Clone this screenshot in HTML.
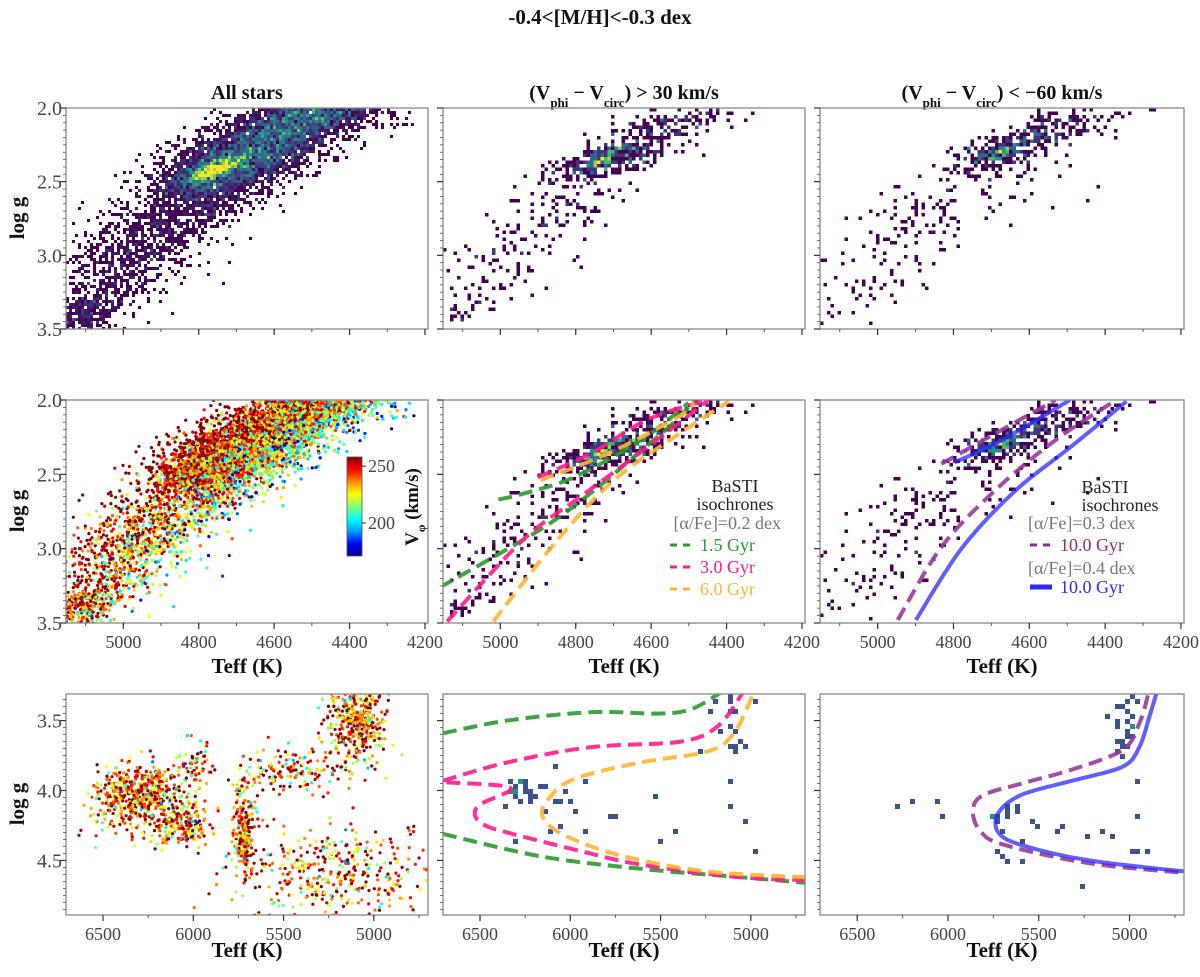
<!DOCTYPE html>
<html><head><meta charset="utf-8">
<style>
html,body{margin:0;padding:0;background:#fff;}
svg{display:block;font-family:"Liberation Serif",serif;}
.tk{font-size:18px;fill:#444;}
.lab{font-size:21px;font-weight:bold;fill:#111;}
.ttl{font-size:20px;font-weight:bold;fill:#111;}
.leg{font-size:18px;}
</style></head>
<body>
<svg id="fig" width="1200" height="977" viewBox="0 0 1200 977" xmlns="http://www.w3.org/2000/svg">
<text x="600" y="24" text-anchor="middle" class="ttl" style="font-size:21px">-0.4&lt;[M/H]&lt;-0.3 dex</text>
<text x="247" y="99" text-anchor="middle" class="ttl">All stars</text>
<text x="624" y="99" text-anchor="middle" class="ttl">(V<tspan baseline-shift="sub" font-size="13">phi</tspan> − V<tspan baseline-shift="sub" font-size="13">circ</tspan>) &gt; 30 km/s</text>
<text x="1002" y="99" text-anchor="middle" class="ttl">(V<tspan baseline-shift="sub" font-size="13">phi</tspan> − V<tspan baseline-shift="sub" font-size="13">circ</tspan>) &lt; −60 km/s</text>
<g id="plots"></g>
</svg>
<script>
// ---------- data ----------
const ridgeG = [1.9, 2.0, 2.5, 3.0, 3.5, 3.6];
const ridgeT = [4400, 4480, 4780, 4980, 5120, 5160];
// [logg centre, logg sd, teff offset, teff sd, count]
const allStarsRGB = [[2.05,0.1,0,90,2200],[2.3,0.1,0,90,2000],[2.5,0.1,-20,85,1300],[2.42,0.05,30,30,800],[2.8,0.15,0,90,600],[3.1,0.15,0,85,450],[3.4,0.1,20,55,400]];
const progRGB = [[2.1,0.1,0,75,170],[2.35,0.08,20,60,300],[2.33,0.04,40,25,80],[2.7,0.15,0,85,90],[3.1,0.2,0,85,70],[3.4,0.1,40,55,40]];
const retroRGB = [[2.1,0.1,-40,80,140],[2.3,0.08,10,55,230],[2.3,0.04,20,25,60],[2.7,0.2,-20,110,110],[3.1,0.2,0,110,50],[3.4,0.1,20,70,20]];
// [teff, logg, sdTeff, sdLogg, count]
const allStarsMS = [[6300,4.05,130,0.12,550],[6050,4.25,80,0.08,180],[6000,3.78,50,0.08,60],[5720,4.3,30,0.16,220],[5450,3.85,200,0.08,170],[5100,3.5,80,0.12,380],[5200,4.6,280,0.17,380]];
const progMS = [[6250,4.0,60,0.07,18],[6000,4.15,200,0.15,14],[5100,3.55,60,0.12,16],[5400,4.3,300,0.25,10]];
const retroMS = [[5000,3.5,50,0.12,22],[5700,4.15,40,0.06,10],[5400,4.3,300,0.15,18],[6300,4.05,150,0.15,4]];
const iso15T = [5160,4893,4752,4645,4539,4485];
const iso15G = [3.26,2.87,2.61,2.38,2.15,2.0];
const iso15uT = [5005,4939,4805,4627,4501];
const iso15uG = [2.67,2.63,2.52,2.27,2.02];
const iso30T = [5141,4939,4787,4680,4539,4448];
const iso30G = [3.49,2.94,2.65,2.45,2.18,2.0];
const iso30uT = [4901,4760,4608,4448];
const iso30uG = [2.52,2.36,2.13,2.0];
const iso60T = [5019,4848,4699,4539,4395];
const iso60G = [3.49,2.94,2.54,2.25,2.01];
const iso60uT = [4893,4715,4539,4485];
const iso60uG = [2.54,2.36,2.13,2.02];
const isoBlueT = [4899,4779,4637,4493,4344];
const isoBlueG = [3.48,3.0,2.61,2.32,2.01];
const isoBlueuT = [4797,4672,4493];
const isoBlueuG = [2.42,2.27,2.0];
const isoPurT = [4947,4832,4691,4531,4371];
const isoPurG = [3.48,2.99,2.61,2.27,2.0];
const isoPuruT = [4832,4672,4531];
const isoPuruG = [2.43,2.20,2.0];
const d15aT = [6705,6350,5888,5516,5333,5166];
const d15aG = [3.59,3.50,3.44,3.45,3.42,3.30];
const d15bT = [6705,6166,5611,5055,4694];
const d15bG = [4.31,4.47,4.56,4.62,4.66];
const d30T = [4694,5055,5611,5983,6350,6470,6527,6500,6333,6705];
const d30G = [4.64,4.62,4.53,4.42,4.30,4.25,4.18,4.10,3.98,3.94];
const d30uT = [6705,6350,5888,5388,5183,5044];
const d30uG = [3.93,3.80,3.69,3.65,3.54,3.30];
const d60T = [4694,5238,5705,6016,6149,6127,5983,5611,5238,5094,4983];
const d60G = [4.62,4.58,4.47,4.33,4.20,4.07,3.92,3.80,3.72,3.59,3.30];
const dBlueT = [4853,4890,4946,5038,5316,5594,5723,5723,5594,5223,4686];
const dBlueG = [3.31,3.47,3.69,3.83,3.93,4.03,4.16,4.30,4.39,4.50,4.58];
const dPurT = [4899,4946,5038,5316,5594,5816,5862,5816,5686,5223,4686];
const dPurG = [3.32,3.52,3.71,3.85,3.95,4.04,4.16,4.30,4.39,4.52,4.59];
const xTicksG = [5000,4800,4600,4400,4200];
const xTicksD = [6500,6000,5500,5000];
const yTicksG = [2.0,2.5,3.0,3.5];
const yTicksD = [3.5,4.0,4.5];
const cbTicks = [200,250];

// ---------- helpers ----------
const NS="http://www.w3.org/2000/svg";
const root=document.getElementById('plots');
function mk(tag,attrs,parent){const e=document.createElementNS(NS,tag);for(const k in attrs)e.setAttribute(k,attrs[k]);(parent||root).appendChild(e);return e;}
let seed=12345;
function rnd(){seed|=0;seed=seed+0x6D2B79F5|0;let t=Math.imul(seed^seed>>>15,1|seed);t=t+Math.imul(t^t>>>7,61|t)^t;return((t^t>>>14)>>>0)/4294967296;}
function gauss(){let u=rnd()||1e-9,v=rnd();return Math.sqrt(-2*Math.log(u))*Math.cos(2*Math.PI*v);}
function interp(xs,ys,x){if(x<=xs[0])return ys[0]+(x-xs[0])*(ys[1]-ys[0])/(xs[1]-xs[0]);for(let i=1;i<xs.length;i++){if(x<=xs[i])return ys[i-1]+(x-xs[i-1])*(ys[i]-ys[i-1])/(xs[i]-xs[i-1]);}const n=xs.length;return ys[n-1]+(x-xs[n-1])*(ys[n-1]-ys[n-2])/(xs[n-1]-xs[n-2]);}
function lerpC(stops,f){f=Math.max(0,Math.min(1,f));const n=stops.length-1;const i=Math.min(n-1,Math.floor(f*n));const t=f*n-i;const a=stops[i],b=stops[i+1];return 'rgb('+[0,1,2].map(k=>Math.round(a[k]+(b[k]-a[k])*t)).join(',')+')';}
const viridis=[[68,1,84],[59,82,139],[33,145,140],[94,201,98],[253,231,37]];
const jetS=[[0,0,140],[0,0,255],[0,160,255],[0,255,255],[130,255,120],[255,255,0],[255,140,0],[255,0,0],[130,0,0]];
const vMin=171,vMax=258;

function rgbSample(clusters){const pts=[];for(const c of clusters){for(let i=0;i<c[4];i++){const g=c[0]+gauss()*c[1];const off=gauss()*c[3];const t=interp(ridgeG,ridgeT,g)+c[2]+off;pts.push([t,g,off]);}}return pts;}
function msSample(clusters){const pts=[];for(const c of clusters){for(let i=0;i<c[4];i++){pts.push([c[0]+gauss()*c[2],c[1]+gauss()*c[3],gauss()]);}}return pts;}

function panel(name,x0,y0,w,h,tL,tR,gT,gB){
  const p={x0,y0,w,h,tL,tR,gT,gB,name};
  p.sx=t=>x0+(tL-t)/(tL-tR)*w; p.sy=g=>y0+(g-gT)/(gB-gT)*h;
  p.g=mk('g',{});  
  const cid='clip-'+name; const cp=mk('clipPath',{id:cid},p.g); mk('rect',{x:x0,y:y0,width:w,height:h},cp);
  p.body=mk('g',{'clip-path':'url(#'+cid+')'},p.g);
  return p;
}
function frame(p,xt,xMinor,yt,yMinor,xLabels,yLabels){
  const ax=mk('g',{},p.g);  
  mk('rect',{x:p.x0,y:p.y0,width:p.w,height:p.h,fill:'none',stroke:'#888','stroke-width':1.3},ax);
  const b=p.y0+p.h;
  for(let t=Math.ceil(Math.min(p.tL,p.tR)/xMinor)*xMinor;t<=Math.max(p.tL,p.tR);t+=xMinor){const x=p.sx(t);mk('line',{x1:x,x2:x,y1:b,y2:b+3,stroke:'#555','stroke-width':1},ax);}
  for(const t of xt){const x=p.sx(t);if(x<p.x0-1||x>p.x0+p.w+1)continue;mk('line',{x1:x,x2:x,y1:b,y2:b+6,stroke:'#333','stroke-width':1.2},ax);
    if(xLabels){const tx=mk('text',{x:x,y:b+25,'text-anchor':'middle',class:'tk'},ax);tx.textContent=t;}}
  for(let g=Math.ceil(p.gT/yMinor)*yMinor;g<=p.gB+1e-9;g+=yMinor){const y=p.sy(g);mk('line',{x1:p.x0-3,x2:p.x0,y1:y,y2:y,stroke:'#555','stroke-width':0.8},ax);}
  for(const g of yt){const y=p.sy(g);mk('line',{x1:p.x0-6,x2:p.x0,y1:y,y2:y,stroke:'#333','stroke-width':1.2},ax);
    if(yLabels){const tx=mk('text',{x:p.x0-4,y:y+7,'text-anchor':'end',class:'tk',style:'font-size:20px'},ax);tx.textContent=g.toFixed(1);}}
}
function hist(p,pts,bin,maxC,mode){
  const m={};for(const q of pts){const x=p.sx(q[0]),y=p.sy(q[1]);const k=Math.floor((x-p.x0)/bin)+','+Math.floor((y-p.y0)/bin);m[k]=(m[k]||0)+1;}
  const g=mk('g',{},p.body);  
  for(const k in m){const [i,j]=k.split(',').map(Number);let col;
    if(mode==='dwarf')col=m[k]>1?'#21918c':'#3b528b';else col=lerpC(viridis,Math.min(1,(m[k]-1)/maxC));
    mk('rect',{x:p.x0+i*bin,y:p.y0+j*bin,width:bin,height:bin,fill:col},g);}
}
function jet(p,pts,vel){
  const g=mk('g',{},p.body);  
  pts.forEach((q,i)=>{mk('circle',{cx:p.sx(q[0]).toFixed(1),cy:p.sy(q[1]).toFixed(1),r:1.6,fill:lerpC(jetS,(vel[i]-vMin)/(vMax-vMin))},g);});
}
function curve(p,T,G,col,dash,name,w){
  const P=T.map((t,i)=>[p.sx(t),p.sy(G[i])]);
  let d='M'+P[0][0].toFixed(1)+','+P[0][1].toFixed(1);
  for(let i=0;i<P.length-1;i++){const p0=P[Math.max(0,i-1)],p1=P[i],p2=P[i+1],p3=P[Math.min(P.length-1,i+2)];
    const c1=[p1[0]+(p2[0]-p0[0])/6,p1[1]+(p2[1]-p0[1])/6],c2=[p2[0]-(p3[0]-p1[0])/6,p2[1]-(p3[1]-p1[1])/6];
    d+=' C'+c1.map(v=>v.toFixed(1)).join(',')+' '+c2.map(v=>v.toFixed(1)).join(',')+' '+p2.map(v=>v.toFixed(1)).join(',');}
  const e=mk('path',{d:d,fill:'none',stroke:col,'stroke-width':w||4,'stroke-dasharray':dash?'14 7':'none','stroke-linejoin':'round','stroke-opacity':dash?0.9:0.75},p.body);
   
}
function label(x,y,txt,rot,name,cls){const t=mk('text',{x:x,y:y,'text-anchor':'middle',class:cls||'lab'});if(rot)t.setAttribute('transform','rotate(-90 '+x+' '+y+')');t.textContent=txt;return t;}

// ---------- samples ----------
const sAll=rgbSample(allStarsRGB), sProg=rgbSample(progRGB), sRetro=rgbSample(retroRGB);
const vAll=sAll.map(q=>Math.max(vMin,Math.min(vMax,236+gauss()*22+q[2]*0.13+(q[1]-2.5)*6)));
const mAll=msSample(allStarsMS), mProg=msSample(progMS), mRetro=msSample(retroMS);
const vMS=mAll.map(q=>Math.max(vMin,Math.min(vMax,240+gauss()*20)));

const cols=[66,443,820], ws=[362,362,364];
const rows=[[108,221],[400,223],[694,221]];

const p11=panel('panel-all-stars-giants-density',cols[0],rows[0][0],ws[0],rows[0][1],5152,4192,2.0,3.5);
hist(p11,sAll,3,14,'v');frame(p11,xTicksG,100,yTicksG,0.05,false,true);
const p12=panel('panel-prograde-giants-density',cols[1],rows[0][0],ws[1],rows[0][1],5152,4192,2.0,3.5);
hist(p12,sProg,3.5,6,'v');frame(p12,xTicksG,100,yTicksG,0.05,false,false);
const p13=panel('panel-retrograde-giants-density',cols[2],rows[0][0],ws[2],rows[0][1],5152,4192,2.0,3.5);
hist(p13,sRetro,3.5,6,'v');frame(p13,xTicksG,100,yTicksG,0.05,false,false);

const p21=panel('panel-all-stars-giants-velocity',cols[0],rows[1][0],ws[0],rows[1][1],5152,4192,2.0,3.5);
jet(p21,sAll,vAll);frame(p21,xTicksG,100,yTicksG,0.05,true,true);
const p22=panel('panel-prograde-giants-isochrones',cols[1],rows[1][0],ws[1],rows[1][1],5152,4192,2.0,3.5);
hist(p22,sProg,3.5,6,'v');
curve(p22,iso15T,iso15G,'#2a9a2a',true,'isochrone-1.5gyr');curve(p22,iso15uT,iso15uG,'#2a9a2a',true,'isochrone-1.5gyr-clump');
curve(p22,iso30T,iso30G,'#ff1a8c',true,'isochrone-3.0gyr');curve(p22,iso30uT,iso30uG,'#ff1a8c',true,'isochrone-3.0gyr-clump');
curve(p22,iso60T,iso60G,'#ffb52e',true,'isochrone-6.0gyr');curve(p22,iso60uT,iso60uG,'#ffb52e',true,'isochrone-6.0gyr-clump');
frame(p22,xTicksG,100,yTicksG,0.05,true,false);
const p23=panel('panel-retrograde-giants-isochrones',cols[2],rows[1][0],ws[2],rows[1][1],5152,4192,2.0,3.5);
hist(p23,sRetro,3.5,6,'v');
curve(p23,isoPurT,isoPurG,'#9a3a9a',true,'isochrone-10gyr-alpha03');curve(p23,isoPuruT,isoPuruG,'#9a3a9a',true,'isochrone-10gyr-alpha03-clump');
curve(p23,isoBlueT,isoBlueG,'#2a2aff',false,'isochrone-10gyr-alpha04');curve(p23,isoBlueuT,isoBlueuG,'#2a2aff',false,'isochrone-10gyr-alpha04-clump');
frame(p23,xTicksG,100,yTicksG,0.05,true,false);

const p31=panel('panel-all-stars-dwarfs-velocity',cols[0],rows[2][0],ws[0],rows[2][1],6705,4700,3.31,4.89);
jet(p31,mAll,vMS);frame(p31,xTicksD,250,yTicksD,0.05,true,true);
const p32=panel('panel-prograde-dwarfs-isochrones',cols[1],rows[2][0],ws[1],rows[2][1],6705,4700,3.31,4.89);
hist(p32,mProg,5,1,'dwarf');
curve(p32,d15aT,d15aG,'#2a9a2a',true,'isochrone-1.5gyr-subgiant');curve(p32,d15bT,d15bG,'#2a9a2a',true,'isochrone-1.5gyr-ms');
curve(p32,d30T,d30G,'#ff1a8c',true,'isochrone-3.0gyr-ms');curve(p32,d30uT,d30uG,'#ff1a8c',true,'isochrone-3.0gyr-subgiant');
curve(p32,d60T,d60G,'#ffb52e',true,'isochrone-6.0gyr-ms');
frame(p32,xTicksD,250,yTicksD,0.05,true,false);
const p33=panel('panel-retrograde-dwarfs-isochrones',cols[2],rows[2][0],ws[2],rows[2][1],6705,4700,3.31,4.89);
hist(p33,mRetro,5,1,'dwarf');
curve(p33,dPurT,dPurG,'#9a3a9a',true,'isochrone-10gyr-alpha03-ms');curve(p33,dBlueT,dBlueG,'#2a2aff',false,'isochrone-10gyr-alpha04-ms');
frame(p33,xTicksD,250,yTicksD,0.05,true,false);

[218,511,804].forEach((y,i)=>label(24,y,'log g',true,'y-axis-title-row'+(i+1)));
[0,1,2].forEach(c=>{label(cols[c]+ws[c]/2,673,'Teff (K)',false,'x-axis-title-row2');label(cols[c]+ws[c]/2,957,'Teff (K)',false,'x-axis-title-row3');});

const cb=mk('g',{});
const gr=mk('linearGradient',{id:'jetg',x1:0,y1:1,x2:0,y2:0},cb);
jetS.forEach((s,i)=>mk('stop',{offset:i/(jetS.length-1),'stop-color':'rgb('+s.join(',')+')'},gr));
const cbY=v=>556-(v-vMin)/(vMax-vMin)*99;
mk('rect',{x:347,y:457,width:15,height:99,fill:'url(#jetg)',stroke:'#555','stroke-width':0.8},cb);
cbTicks.forEach(v=>{mk('line',{x1:362,x2:366,y1:cbY(v),y2:cbY(v),stroke:'#333'},cb);const t=mk('text',{x:368,y:cbY(v)+6,class:'tk'},cb);t.textContent=v;});
const cbl=mk('text',{x:418,y:507,'text-anchor':'middle',class:'lab',transform:'rotate(-90 418 507)',style:'font-size:19px'},cb);
cbl.innerHTML='V<tspan baseline-shift="sub" font-size="12">φ</tspan> (km/s)';

function legend(items,name){const g=mk('g',{});
  for(const it of items){if(it.line){mk('line',{x1:it.lx1,x2:it.lx2,y1:it.y-6,y2:it.y-6,stroke:it.col,'stroke-width':it.dash?3:5,'stroke-dasharray':it.dash?'7 6':'none'},g);}
    const t=mk('text',{x:it.x,y:it.y,'text-anchor':it.a||'start',class:'leg',fill:it.col},g);t.textContent=it.t;}}
legend([{t:'BaSTI',x:735,y:492,a:'middle',col:'#222'},{t:'isochrones',x:735,y:510,a:'middle',col:'#222'},
 {t:'[α/Fe]=0.2 dex',x:781,y:529,a:'end',col:'#777'},
 {t:'1.5 Gyr',x:700,y:551,col:'#2a9a2a',line:1,lx1:670,lx2:692,dash:1},
 {t:'3.0 Gyr',x:700,y:573,col:'#ff1a8c',line:1,lx1:670,lx2:692,dash:1},
 {t:'6.0 Gyr',x:700,y:595,col:'#ffb52e',line:1,lx1:670,lx2:692,dash:1}],'legend-prograde');
legend([{t:'BaSTI',x:1105,y:493,a:'middle',col:'#222'},{t:'isochrones',x:1120,y:511,a:'middle',col:'#222'},
 {t:'[α/Fe]=0.3 dex',x:1028,y:529,col:'#777'},
 {t:'10.0 Gyr',x:1060,y:551,col:'#8a2a8a',line:1,lx1:1030,lx2:1052,dash:1},
 {t:'[α/Fe]=0.4 dex',x:1028,y:574,col:'#777'},
 {t:'10.0 Gyr',x:1060,y:593,col:'#2a2aff',line:1,lx1:1030,lx2:1052}],'legend-retrograde');
</script>
</body></html>
